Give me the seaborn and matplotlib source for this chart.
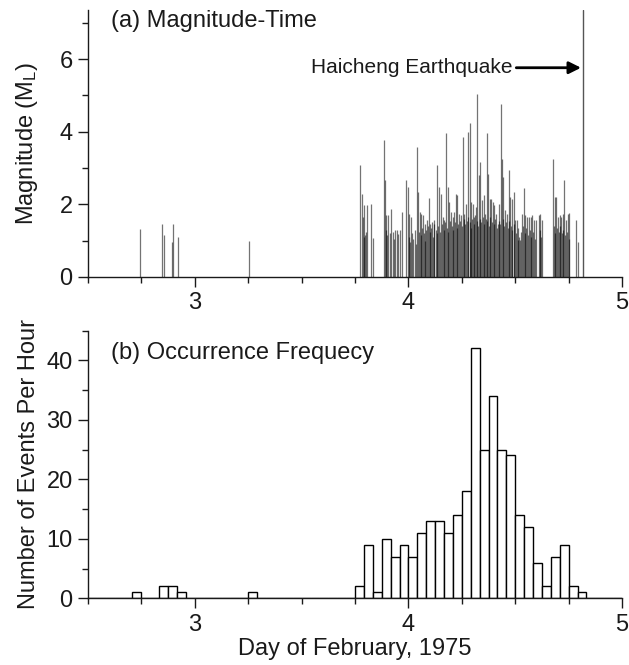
import numpy as np
import pandas as pd
import matplotlib
matplotlib.use('Agg')
import matplotlib.pyplot as plt
from matplotlib.ticker import MultipleLocator
import seaborn as sns

# --- data ---
# (a) individual events: day of February 1975, local magnitude
event_day = [2.742, 2.847, 2.855, 2.891, 2.900, 2.920, 3.252,
             3.773, 3.781, 3.787, 3.793, 3.798, 3.804, 3.826, 3.832,
             3.886, 3.891, 3.897, 3.905, 3.920, 3.929, 3.937, 3.945, 3.953, 3.960, 3.968,
             3.991, 3.998, 4.005, 4.012, 4.040, 4.044, 4.054, 4.060, 4.069, 4.080, 4.086,
             4.095, 4.103, 4.111, 4.119, 4.136, 4.143, 4.153, 4.162, 4.168, 4.176, 4.184,
             4.191, 4.199, 4.207, 4.215, 4.223, 4.229, 4.238, 4.247, 4.255, 4.261, 4.269,
             4.278, 4.286, 4.294, 4.302, 4.309, 4.317, 4.323, 4.331, 4.337, 4.345, 4.353,
             4.359, 4.367, 4.373, 4.381, 4.388, 4.396, 4.402, 4.410, 4.418, 4.426, 4.433,
             4.438, 4.444, 4.452, 4.460, 4.469, 4.477, 4.483, 4.492, 4.498, 4.508, 4.515,
             4.523, 4.533, 4.540, 4.548, 4.556, 4.564, 4.573, 4.579, 4.587, 4.595, 4.610,
             4.618, 4.626, 4.677, 4.684, 4.691, 4.700, 4.708, 4.716, 4.722, 4.730, 4.736,
             4.747, 4.753, 4.784, 4.792]
event_mag = [1.31, 1.46, 1.16, 0.97, 1.46, 1.09, 1.00,
             3.07, 2.29, 1.65, 1.97, 1.15, 1.97, 2.00, 1.06,
             3.78, 2.66, 1.70, 1.70, 1.88, 1.24, 1.28, 1.30, 1.19, 1.28, 1.79,
             2.66, 2.48, 1.74, 1.65, 3.58, 2.34, 1.79, 1.74, 1.70, 1.47, 1.56,
             2.18, 1.47, 1.51, 1.56, 3.07, 2.48, 2.29, 1.65, 1.56, 3.96, 2.48,
             2.06, 1.79, 1.65, 1.79, 2.29, 2.25, 1.74, 1.70, 3.85, 1.74, 2.02,
             3.99, 4.25, 2.06, 2.02, 1.65, 1.93, 5.05, 2.80, 3.17, 2.11, 2.25,
             1.74, 3.96, 2.84, 2.16, 2.16, 2.06, 1.97, 1.74, 1.47, 2.02, 4.75,
             3.26, 2.75, 1.83, 1.74, 2.95, 2.20, 2.16, 2.34, 1.56, 1.56, 1.01,
             1.01, 1.74, 2.46, 1.70, 1.65, 1.65, 1.65, 1.70, 1.56, 1.56, 1.70,
             1.74, 1.56, 3.26, 2.20, 2.20, 1.65, 1.70, 1.65, 1.74, 2.68, 1.56,
             1.74, 1.76, 1.58, 0.96]

# smaller events forming the dark base of the swarm
swarm_day = [3.790, 3.802, 3.894, 3.902, 3.915, 3.933,
             4.004, 4.009, 4.017, 4.023, 4.030, 4.036, 4.049, 4.057, 4.064, 4.072,
             4.077, 4.084, 4.090, 4.099, 4.107, 4.115, 4.122, 4.128, 4.133, 4.140,
             4.147, 4.157, 4.165, 4.172, 4.180, 4.187, 4.195, 4.203, 4.211, 4.219,
             4.226, 4.233, 4.242, 4.251, 4.258, 4.265, 4.273, 4.281, 4.289, 4.292,
             4.298, 4.305, 4.313, 4.320, 4.327, 4.334, 4.341, 4.349, 4.356, 4.363,
             4.370, 4.377, 4.384, 4.392, 4.399, 4.406, 4.414, 4.422, 4.430, 4.441,
             4.448, 4.456, 4.464, 4.473, 4.480, 4.487, 4.495, 4.503, 4.511, 4.519,
             4.527, 4.537, 4.544, 4.552, 4.560, 4.568, 4.576, 4.583, 4.591, 4.614,
             4.622, 4.681, 4.688, 4.696, 4.704, 4.712, 4.719, 4.726, 4.733, 4.742, 4.750]
swarm_mag = [1.10, 1.25, 1.30, 1.15, 1.20, 1.05,
             1.10, 0.95, 1.20, 1.05, 1.30, 0.90, 1.25, 1.15, 1.35, 1.20,
             1.00, 1.30, 1.40, 1.25, 1.35, 1.10, 1.45, 1.30, 1.20, 1.40,
             1.25, 1.45, 1.30, 1.50, 1.35, 1.25, 1.55, 1.40, 1.30, 1.50,
             1.35, 1.45, 1.55, 1.40, 1.60, 1.45, 1.55, 1.65, 1.50, 1.35,
             1.60, 1.45, 1.70, 1.55, 1.40, 1.60, 1.50, 1.65, 1.45, 1.60,
             1.55, 1.40, 1.65, 1.50, 1.45, 1.60, 1.35, 1.55, 1.45, 1.60,
             1.40, 1.50, 1.35, 1.55, 1.40, 1.30, 1.45, 1.20, 1.35, 1.10,
             1.25, 1.40, 1.20, 1.35, 1.15, 1.30, 1.10, 1.25, 1.05, 1.30,
             1.10, 1.40, 1.20, 1.35, 1.25, 1.40, 1.20, 1.30, 1.15, 1.25, 1.05]

main_shock_day = 4.817

# (b) events per hour; hour counted from the start of Feb 0
hour_start = [65, 68, 69, 70, 78,
              90, 91, 92, 93, 94, 95, 96, 97, 98, 99, 100, 101, 102,
              103, 104, 105, 106, 107, 108, 109, 110, 111, 112, 113, 114, 115]
hour_count = [1, 2, 2, 1, 1,
              2, 9, 1, 10, 7, 9, 7, 11, 13, 13, 11, 14, 18,
              42, 25, 34, 25, 24, 14, 12, 6, 2, 7, 9, 2, 1]

# --- plotting ---
sns.set_style('ticks')
plt.rcParams['font.family'] = ['Liberation Sans', 'DejaVu Sans']
plt.rcParams['mathtext.fontset'] = 'custom'
plt.rcParams['mathtext.rm'] = 'Liberation Sans'
plt.rcParams['mathtext.it'] = 'Liberation Sans:italic'
fs = 17
ink = '#1a1a1a'

fig = plt.figure(figsize=(6.29, 6.65), dpi=100)
ax1 = fig.add_axes([0.1399, 0.5835, 0.8490, 0.4015])
ax2 = fig.add_axes([0.1399, 0.1003, 0.8490, 0.4027])

# (a) magnitude-time
ax1.vlines(swarm_day, 0, swarm_mag, color='black', alpha=0.55, lw=0.9)
ax1.vlines(event_day, 0, event_mag, color='black', alpha=0.55, lw=0.9)
ax1.axvline(main_shock_day, color='#555555', lw=1)
ax1.set_ylim(0, 7.35)
ax1.yaxis.set_major_locator(MultipleLocator(2))
ax1.yaxis.set_minor_locator(MultipleLocator(1))
ax1.set_ylabel('Magnitude (M$_\\mathrm{L}$)', fontsize=fs, color=ink)
ax1.text(2.607, 7.06, '(a) Magnitude-Time', fontsize=fs, va='center', color=ink)
ax1.annotate('', xy=(4.808, 5.76), xytext=(4.505, 5.76),
             arrowprops=dict(arrowstyle='-|>', color='black', lw=2,
                             mutation_scale=18, shrinkA=0, shrinkB=0))
ax1.text(4.485, 5.76, 'Haicheng Earthquake', fontsize=15, ha='right',
         va='center', color=ink)

# (b) occurrence frequency
hourly = pd.DataFrame({'day': [(h + 0.5) / 24 for h in hour_start],
                       'n': hour_count})
hour_edges = (np.arange(60, 121) / 24).tolist()
sns.histplot(data=hourly, x='day', weights='n', bins=hour_edges,
             color='white', edgecolor='black', linewidth=1, alpha=1, ax=ax2)
ax2.set_ylim(0, 45)
ax2.yaxis.set_major_locator(MultipleLocator(10))
ax2.yaxis.set_minor_locator(MultipleLocator(5))
ax2.set_ylabel('Number of Events Per Hour', fontsize=fs, color=ink)
ax2.set_xlabel('Day of February, 1975', fontsize=fs, color=ink, labelpad=2)
ax2.text(2.607, 41.2, '(b) Occurrence Frequecy', fontsize=fs, va='center', color=ink)

for ax in (ax1, ax2):
    ax.set_xlim(2.5, 5)
    ax.xaxis.set_major_locator(MultipleLocator(1))
    ax.xaxis.set_minor_locator(MultipleLocator(0.25))
    ax.xaxis.set_major_formatter(plt.FuncFormatter(lambda v, p: f'{v:.0f}'))
    ax.tick_params(which='major', length=7, width=1, labelsize=fs,
                   colors=ink, direction='out', pad=4)
    ax.tick_params(which='minor', length=4, width=1, direction='out', colors=ink)
    sns.despine(ax=ax)
    for s in ('left', 'bottom'):
        ax.spines[s].set_linewidth(1)
        ax.spines[s].set_color(ink)
    ax.yaxis.set_label_coords(-0.09, 0.5)

fig.savefig('out.png', dpi=100)
